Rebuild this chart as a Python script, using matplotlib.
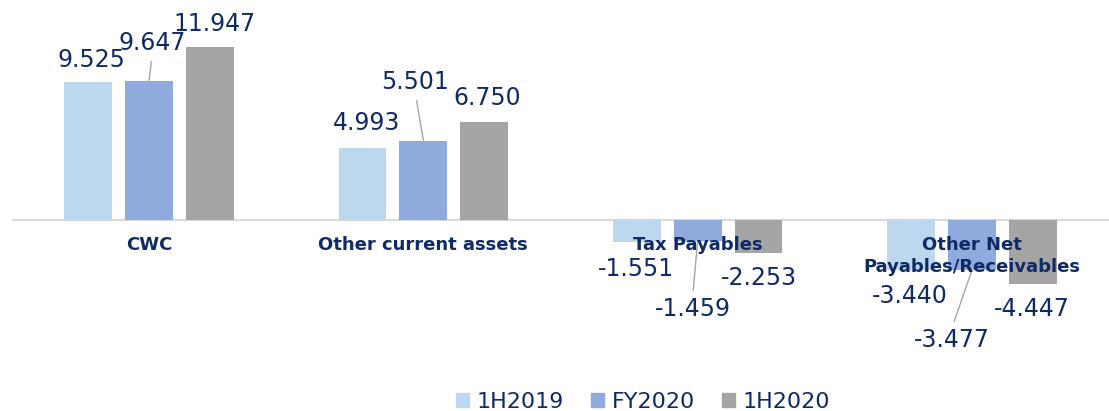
import matplotlib.pyplot as plt
import matplotlib.patches as mpatches
import numpy as np

categories = ['CWC', 'Other current assets', 'Tax Payables', 'Other Net\nPayables/Receivables']
series = ['1H2019', 'FY2020', '1H2020']
v_1h2019 = [9.525, 4.993, -1.551, -3.440]
v_fy2020 = [9.647, 5.501, -1.459, -3.477]
v_1h2020 = [11.947, 6.750, -2.253, -4.447]

colors = ['#BDD7EE', '#8FAADC', '#A5A5A5']
navy = '#0F2B66'
leader = '#A6A6A6'

# label offsets from bar end, in pixels (dx, dy up positive)
offsets = {
    ('1H2019', 0): (3, 22), ('FY2020', 0): (3, 38), ('1H2020', 0): (5, 23),
    ('1H2019', 1): (4, 25), ('FY2020', 1): (-8, 59), ('1H2020', 1): (3, 24),
    ('1H2019', 2): (-1, -27), ('FY2020', 2): (-5, -68), ('1H2020', 2): (0, -25),
    ('1H2019', 3): (-1, -26), ('FY2020', 3): (-20, -70), ('1H2020', 3): (-1, -25),
}
leaders = {('FY2020', 0): 0, ('FY2020', 1): 0, ('FY2020', 2): -11, ('FY2020', 3): -4}

W, H = 1109, 411
fig = plt.figure(figsize=(W / 100, H / 100), dpi=100)
ax = fig.add_axes([12 / W, 0, 1 - 12 / W, 1])
scale = 14.45  # px per unit
ax.set_ylim(-(H - 220) / scale, 220 / scale)
ax.set_xlim(-0.5, 3.5)
ax.axis('off')
ax.axhline(0, color='#D9D9D9', lw=1.5, zorder=1)

x = np.arange(len(categories))
width = 48 / 275
step = 61 / 275
data = [v_1h2019, v_fy2020, v_1h2020]
for k, (name, vals) in enumerate(zip(series, data)):
    xs = x + (k - 1) * step
    ax.bar(xs, vals, width, color=colors[k], label=name, zorder=2)
    for i, v in enumerate(vals):
        dx, dy = offsets[(name, i)]
        txt = '{:.3f}'.format(v)
        if (name, i) in leaders:
            ax.annotate(txt, xy=(xs[i], v), xytext=(dx, dy), textcoords='offset pixels',
                        ha='center', va='center', fontsize=17, color=navy,
                        arrowprops=dict(arrowstyle='-', color=leader, lw=1,
                                        shrinkA=3, shrinkB=0,
                                        relpos=(0.5, 0) if v > 0 else (0.5, 1)))
        else:
            ax.annotate(txt, xy=(xs[i], v), xytext=(dx, dy), textcoords='offset pixels',
                        ha='center', va='center', fontsize=17, color=navy)

for i, c in enumerate(categories):
    ax.annotate(c, xy=(x[i], 0), xytext=(0, -16), textcoords='offset pixels',
                ha='center', va='top', fontsize=13, fontweight='bold', color=navy,
                linespacing=1.25, zorder=5)

handles = [mpatches.Patch(color=colors[k], label=series[k]) for k in range(3)]
leg = fig.legend(handles=handles, loc='center', bbox_to_anchor=(643 / W, 9 / H),
                 ncol=3, frameon=False, fontsize=16, handlelength=0.6, handleheight=0.6,
                 handletextpad=0.35, columnspacing=1.2)
for t in leg.get_texts():
    t.set_color(navy)

plt.savefig('out.png', dpi=100)
